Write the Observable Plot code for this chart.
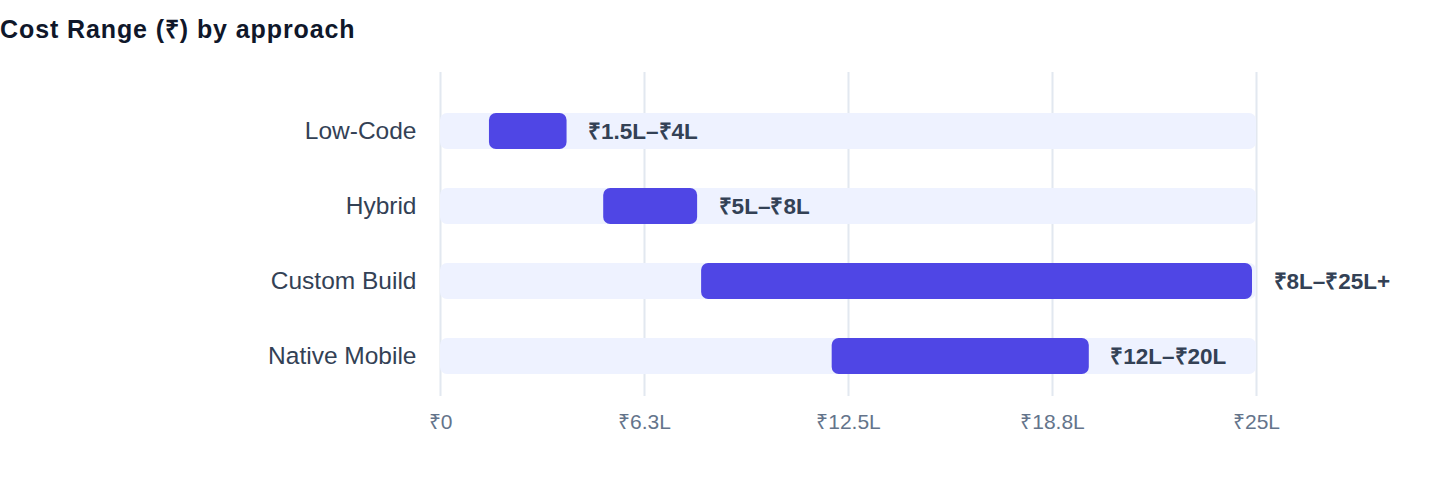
<!DOCTYPE html>
<html>
<head>
<meta charset="utf-8">
<script src="https://cdn.jsdelivr.net/npm/d3@7"></script>
<script src="https://cdn.jsdelivr.net/npm/@observablehq/plot@0.6"></script>
<style>
  html, body { margin: 0; padding: 0; background: #ffffff; }
  body { width: 1440px; height: 484px; overflow: hidden; font-family: "Liberation Sans", Arial, Helvetica, sans-serif; }
  #title { box-sizing: border-box; height: 56px; padding-top: 17px; margin: 0; font-size: 25px; line-height: 25px; letter-spacing: 0.9px; font-weight: 700; color: #0f172a; }
  #chart svg { display: block; }
</style>
</head>
<body>
<div id="title">Cost Range (₹) by approach</div>
<div id="chart"></div>
<script>
const categories = ["Low-Code", "Hybrid", "Custom Build", "Native Mobile"];
const lowCost = [1.5, 5, 8, 12];
const highCost = [4, 8, 25, 20];
const rangeLabels = ["₹1.5L–₹4L", "₹5L–₹8L", "₹8L–₹25L+", "₹12L–₹20L"];
const trackMax = 25;
const tickValues = [0, 6.25, 12.5, 18.75, 25];
const tickLabels = ["₹0", "₹6.3L", "₹12.5L", "₹18.8L", "₹25L"];

const rows = categories.map((c, i) => ({
  cat: c, lo: lowCost[i], hi: highCost[i], label: rangeLabels[i], zero: 0, track: trackMax
}));

const chart = Plot.plot({
  width: 1440,
  height: 428,
  marginLeft: 440,
  marginRight: 184,
  marginTop: 16,
  marginBottom: 88,
  style: { fontFamily: "'Liberation Sans', Arial, Helvetica, sans-serif", background: "#ffffff" },
  x: { domain: [0, trackMax], label: null },
  y: { domain: categories, paddingInner: 0.526, paddingOuter: 0.395, align: 0.64, label: null },
  marks: [
    Plot.gridX(tickValues, { stroke: "#e2e8f0", strokeOpacity: 1, strokeWidth: 2 }),
    Plot.barX(rows, { x1: "zero", x2: "track", y: "cat", fill: "#eef2ff", rx: 7 }),
    Plot.barX(rows, { x1: "lo", x2: "hi", y: "cat", fill: "#4f46e5", rx: 7, insetRight: 4 }),
    Plot.text(rows, { x: "hi", y: "cat", text: "label", textAnchor: "start", dx: 17, fontWeight: "bold", fontSize: 22.5, fill: "#334155" }),
    Plot.axisX(tickValues, { tickSize: 0, tickPadding: 18, fontSize: 21, fill: "#64748b", label: null,
      tickFormat: (d) => tickLabels[tickValues.indexOf(d)] }),
    Plot.axisY({ tickSize: 0, tickPadding: 24, fontSize: 24.5, fill: "#334155", label: null })
  ]
});
document.getElementById("chart").appendChild(chart);
</script>
</body>
</html>
